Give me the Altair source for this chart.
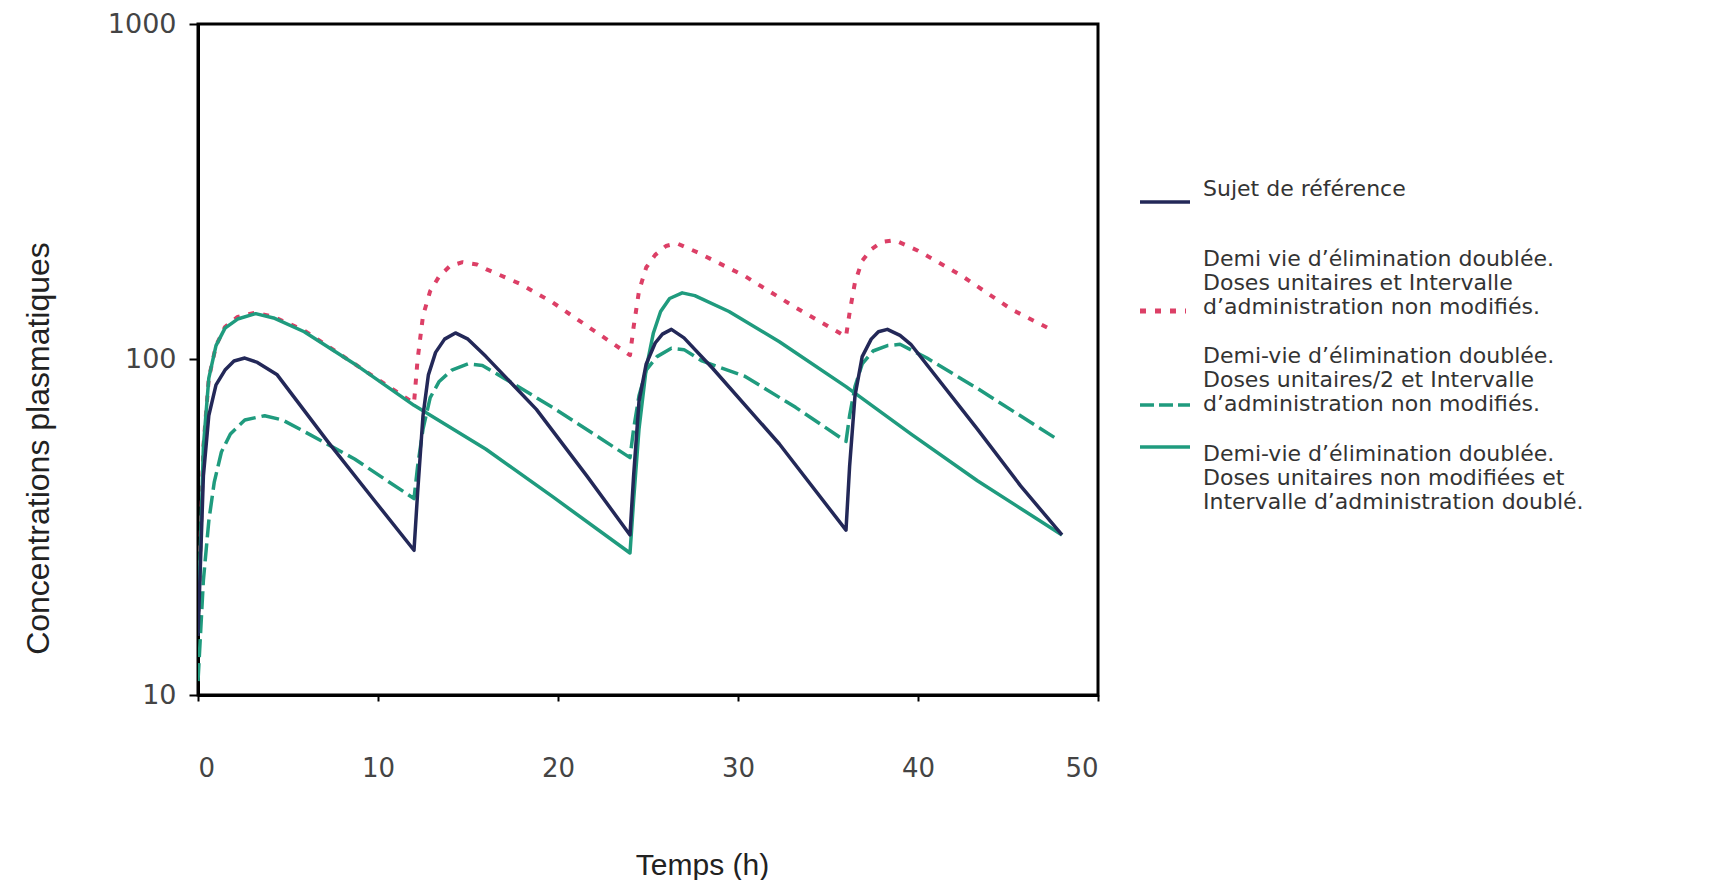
import altair as alt
import pandas as pd

# ---- data ----
REF_T = [0, 0.3, 0.6, 1.0, 1.5, 2.0, 2.6, 3.3, 4.4, 7.2, 9.8, 12.0,
         12.2, 12.5, 12.8, 13.2, 13.7, 14.3, 15.0, 16.0, 18.8, 21.6, 24.0,
         24.2, 24.5, 24.9, 25.4, 25.8, 26.3, 27.0, 28.6, 32.3, 36.0,
         36.2, 36.5, 36.9, 37.4, 37.8, 38.3, 39.0, 39.6, 43.3, 45.7, 48.0]
REF_C = [15, 45, 68, 84, 93, 99, 101, 98, 90, 57, 38, 27,
         40, 68, 90, 105, 115, 120, 115, 102, 71, 45, 30,
         45, 75, 97, 112, 119, 123, 116, 94, 56, 31,
         48, 78, 102, 115, 121, 123, 118, 111, 62, 42, 30]

RED_T = [0, 0.3, 0.6, 1.0, 1.5, 2.2, 3.2, 4.2, 5.9, 8.7, 12.0,
         12.2, 12.5, 12.9, 13.4, 14.0, 14.7, 15.5, 16.0, 17.9, 19.7, 21.6, 24.0,
         24.2, 24.5, 24.9, 25.4, 26.0, 26.6, 27.8, 30.4, 33.0, 36.0,
         36.2, 36.5, 36.9, 37.4, 38.0, 38.7, 40.0, 42.4, 45.2, 47.5]
RED_C = [16, 55, 88, 110, 125, 134, 138, 134, 122, 97, 74,
         100, 135, 160, 177, 190, 195, 192, 186, 168, 148, 126, 103,
         125, 160, 188, 205, 218, 222, 208, 177, 145, 117,
         138, 170, 197, 213, 224, 227, 211, 178, 141, 122]

HALF_T = [0, 0.3, 0.6, 0.9, 1.3, 1.8, 2.6, 3.7, 4.7, 5.9, 8.7, 12.0,
          12.2, 12.5, 12.9, 13.4, 14.1, 15.0, 15.8, 17.0, 19.7, 24.0,
          24.2, 24.5, 24.9, 25.5, 26.3, 27.0, 28.0, 30.4, 33.2, 36.0,
          36.2, 36.5, 36.9, 37.5, 38.3, 39.0, 40.5, 43.3, 47.7]
HALF_C = [11, 22, 33, 43, 53, 60, 66, 68, 66, 61, 50.5, 38.5,
          48, 62, 77, 86, 93, 97, 96, 88, 72, 51,
          62, 78, 93, 102, 108, 107, 99, 89, 72, 57,
          68, 83, 97, 106, 110, 111, 101, 82, 58]

DBL_T = [0, 0.3, 0.6, 1.0, 1.5, 2.2, 3.2, 4.2, 5.9, 8.7, 12.0, 16.0, 19.7, 24.0,
         24.2, 24.5, 24.9, 25.3, 25.7, 26.2, 26.9, 27.6, 29.5, 32.3, 36.0, 39.6, 43.3, 48.0]
DBL_C = [16, 55, 88, 110, 124, 132, 137, 133, 121, 97, 73, 54, 39, 26.5,
         38, 62, 94, 120, 139, 152, 158, 155, 139, 113, 83, 60, 43.5, 30]

X_TICKS = [0, 10, 20, 30, 40, 50]
Y_TICKS = [10, 100, 1000]

LEGEND = [
    "Sujet de référence",
    "Demi vie d’élimination doublée.\nDoses unitaires et Intervalle\nd’administration non modifiés.",
    "Demi-vie d’élimination doublée.\nDoses unitaires/2 et Intervalle\nd’administration non modifiés.",
    "Demi-vie d’élimination doublée.\nDoses unitaires non modifiées et\nIntervalle d’administration doublé.",
]

NAVY = "#232858"
RED = "#dc3f66"
GREEN = "#1f9b7e"

W, H = 900, 671
TICK_FONT = "DejaVu Sans"
TITLE_FONT = "Liberation Sans"
LEG_FONT = "DejaVu Sans"

x_enc = alt.X(
    "t:Q",
    scale=alt.Scale(domain=[0, 50], nice=False, zero=False),
    axis=alt.Axis(
        values=X_TICKS, title="Temps (h)", grid=False,
        tickSize=6, tickWidth=2, tickColor="black",
        domainColor="black", domainWidth=3,
        labelFont=TICK_FONT, labelFontSize=26, labelColor="#444",
        labelPadding=67, labelBaseline="middle",
        titleFont=TITLE_FONT, titleFontSize=30, titleFontWeight="normal",
        titleColor="#222", titleX=504, titleY=170, titleBaseline="middle",
        titleAlign="center",
    ),
)
y_enc = alt.Y(
    "c:Q",
    scale=alt.Scale(type="log", domain=[10, 1000], nice=False),
    axis=alt.Axis(
        values=Y_TICKS, format="d", title="Concentrations plasmatiques", grid=False,
        tickSize=9, tickWidth=2, tickColor="black",
        domainColor="black", domainWidth=3,
        labelFont=TICK_FONT, labelFontSize=27, labelColor="#444",
        labelPadding=13,
        titleFont=TITLE_FONT, titleFontSize=32, titleFontWeight="normal",
        titleColor="#222", titleX=-160, titleY=424, titleAngle=270,
        titleBaseline="middle", titleAlign="center",
    ),
)


def series(ts, cs, color, dash, width=3.5):
    df = pd.DataFrame({"t": ts, "c": cs})
    kw = dict(color=color, strokeWidth=width, interpolate="linear", clip=True,
              strokeJoin="round")
    if dash:
        kw["strokeDash"] = dash
    return alt.Chart(df).mark_line(**kw).encode(x=x_enc, y=y_enc)


lines = [
    series(RED_T, RED_C, RED, [6, 9], 4),
    series(HALF_T, HALF_C, GREEN, [18, 6]),
    series(DBL_T, DBL_C, GREEN, None),
    series(REF_T, REF_C, NAVY, None),
]

one = pd.DataFrame({"k": [0]})


def leg_symbol(y, color, dash, x1=942, x2=992, width=3.5):
    kw = dict(color=color, strokeWidth=width)
    if dash:
        kw["strokeDash"] = dash
    return alt.Chart(one).mark_rule(**kw).encode(
        x=alt.value(x1), x2=alt.value(x2), y=alt.value(y))


def leg_text(label, y):
    return alt.Chart(pd.DataFrame({"label": [label]})).mark_text(
        align="left", baseline="top", font=LEG_FONT, fontSize=22,
        lineHeight=24, lineBreak="\n", color="#333",
    ).encode(x=alt.value(1005), y=alt.value(y), text="label:N")


legend = [
    leg_symbol(178, NAVY, None),
    leg_text(LEGEND[0], 155),
    leg_symbol(287, RED, [6, 9], 942, 988, 5),
    leg_text(LEGEND[1], 225),
    leg_symbol(381, GREEN, [14, 5]),
    leg_text(LEGEND[2], 322),
    leg_symbol(423, GREEN, None),
    leg_text(LEGEND[3], 420),
]

chart = alt.layer(*lines, *legend).properties(
    width=W, height=H,
    autosize=alt.AutoSizeParams(type="none"),
    padding={"left": 190, "top": 16, "right": 604, "bottom": 185},
    background="white",
).configure_view(stroke="black", strokeWidth=3)

chart.save("out.html", embed_options={"renderer": "svg", "actions": False})
